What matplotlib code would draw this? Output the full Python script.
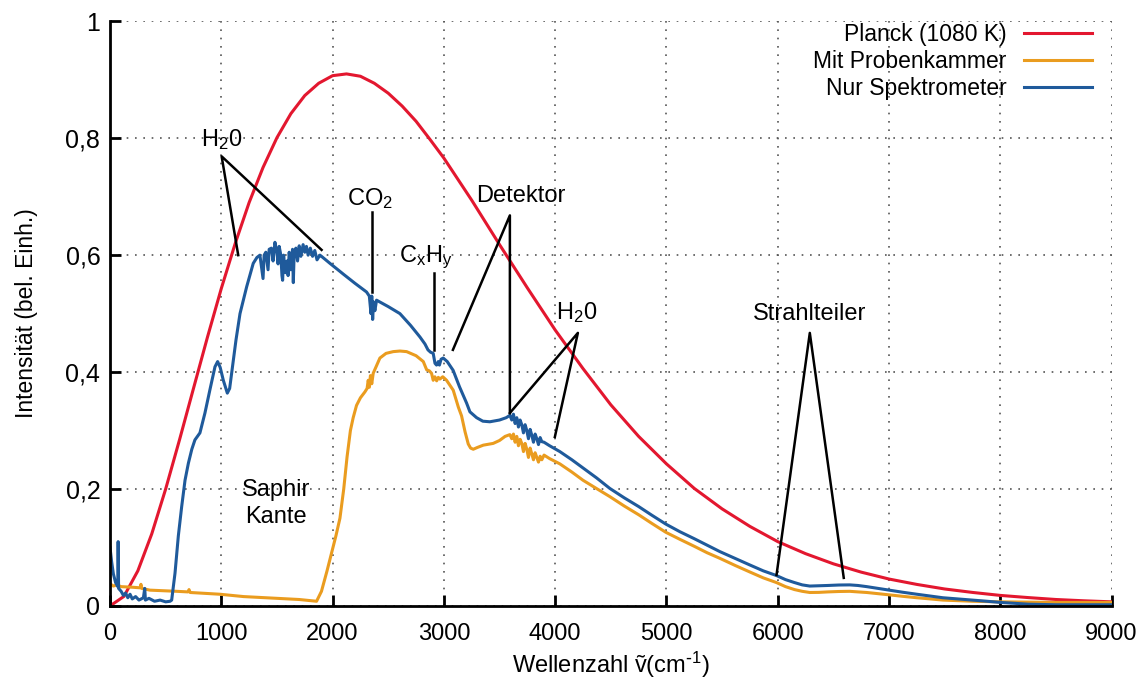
import matplotlib
matplotlib.use("Agg")
import matplotlib.pyplot as plt
from matplotlib.ticker import FuncFormatter

plt.rcParams['font.family'] = ['Liberation Sans', 'DejaVu Sans']
plt.rcParams['mathtext.default'] = 'regular'

# Planck-Kurve (1080 K), normiert
planck_x = [0, 125, 250, 375, 500, 625, 750, 875, 1000, 1125, 1250, 1375,
            1500, 1625, 1750, 1875, 2000, 2125, 2250, 2375, 2500, 2625, 2750,
            2875, 3000, 3125, 3250, 3375, 3500, 3625, 3750, 3875, 4000, 4250,
            4500, 4750, 5000, 5250, 5500, 5750, 6000, 6250, 6500, 6750, 7000,
            7250, 7500, 7750, 8000, 8250, 8500, 8750, 9000]
planck_y = [0.0, 0.0163, 0.060, 0.1232, 0.200, 0.2845, 0.372, 0.4593, 0.543,
            0.620, 0.690, 0.750, 0.801, 0.842, 0.873, 0.894, 0.907, 0.910,
            0.906, 0.894, 0.877, 0.855, 0.829, 0.798, 0.766, 0.730, 0.694,
            0.656, 0.618, 0.581, 0.544, 0.508, 0.472, 0.406, 0.344, 0.290,
            0.243, 0.201, 0.166, 0.136, 0.110, 0.0894, 0.072, 0.0578, 0.046,
            0.0368, 0.029, 0.0231, 0.018, 0.0143, 0.011, 0.0088, 0.007]

# Messung mit Probenkammer
probe_x = [0, 30, 60, 100, 200, 270, 278, 285, 359, 600, 700, 710, 720, 988,
           1200, 1500, 1700, 1856, 1900, 1950, 1990, 2030, 2066, 2100, 2130,
           2160, 2185, 2215, 2250, 2290, 2310, 2320, 2330, 2340, 2352, 2365,
           2425, 2480, 2545, 2605, 2665, 2750, 2815, 2845, 2870, 2889, 2904,
           2919, 2935, 2950, 2964, 2990, 3024, 3084, 3130, 3159, 3190, 3219,
           3240, 3264, 3300, 3354, 3443, 3500, 3550, 3593, 3610, 3625, 3640,
           3655, 3670, 3685, 3700, 3715, 3730, 3745, 3760, 3775, 3790, 3805,
           3820, 3835, 3850, 3865, 3880, 3900, 3950, 4042, 4150, 4250, 4370,
           4491, 4620, 4750, 4870, 4994, 5120, 5250, 5365, 5479, 5620, 5750,
           5870, 5988, 6070, 6150, 6220, 6288, 6370, 6450, 6550, 6647, 6720,
           6800, 6900, 7000, 7120, 7250, 7370, 7484, 7620, 7750, 8000, 8500,
           9000]
probe_y = [0.038, 0.034, 0.036, 0.033, 0.032, 0.031, 0.037, 0.030, 0.027,
           0.025, 0.024, 0.028, 0.023, 0.020, 0.016, 0.013, 0.011, 0.008,
           0.025, 0.060, 0.090, 0.120, 0.150, 0.200, 0.255, 0.300, 0.322,
           0.343, 0.356, 0.366, 0.372, 0.386, 0.374, 0.394, 0.380, 0.398,
           0.424, 0.432, 0.435, 0.436, 0.435, 0.428, 0.418, 0.404, 0.402,
           0.398, 0.386, 0.392, 0.385, 0.391, 0.388, 0.392, 0.386, 0.369,
           0.340, 0.325, 0.298, 0.277, 0.270, 0.268, 0.271, 0.275, 0.278,
           0.283, 0.290, 0.293, 0.286, 0.294, 0.280, 0.290, 0.274, 0.285,
           0.278, 0.264, 0.278, 0.268, 0.254, 0.270, 0.260, 0.250, 0.262,
           0.254, 0.246, 0.256, 0.250, 0.258, 0.252, 0.243, 0.229, 0.215,
           0.201, 0.187, 0.171, 0.156, 0.141, 0.126, 0.114, 0.102, 0.091,
           0.0815, 0.069, 0.058, 0.048, 0.040, 0.033, 0.028, 0.025, 0.023,
           0.0232, 0.024, 0.0247, 0.025, 0.024, 0.023, 0.021, 0.019, 0.0165,
           0.014, 0.012, 0.010, 0.009, 0.008, 0.007, 0.006, 0.006]

# Messung nur Spektrometer
spek_x = [0, 15, 30, 50, 70, 73, 77, 100, 120, 140, 160, 180, 200, 230, 260,
          300, 312, 318, 350, 400, 450, 500, 540, 554, 584, 614, 644, 674, 704,
          735, 763, 808, 853, 898, 943, 967, 990, 1018, 1054, 1075, 1093, 1132,
          1168, 1228, 1287, 1320, 1347, 1375, 1385, 1400, 1420, 1430, 1450,
          1465, 1482, 1500, 1510, 1520, 1535, 1545, 1551, 1560, 1575, 1590,
          1600, 1610, 1625, 1640, 1647, 1655, 1670, 1685, 1700, 1715, 1735,
          1750, 1765, 1780, 1800, 1820, 1840, 1860, 1886, 1900, 1976, 2100,
          2200, 2305, 2330, 2345, 2352, 2360, 2368, 2380, 2395, 2500, 2605,
          2700, 2785, 2830, 2857, 2880, 2904, 2920, 2934, 2950, 2960, 2975,
          2994, 3030, 3083, 3140, 3204, 3234, 3294, 3350, 3413, 3500, 3560,
          3593, 3610, 3625, 3640, 3655, 3670, 3685, 3700, 3715, 3730, 3745,
          3760, 3775, 3790, 3805, 3820, 3835, 3850, 3865, 3880, 3900, 3950,
          4042, 4150, 4250, 4372, 4491, 4620, 4750, 4870, 4994, 5120, 5250,
          5365, 5479, 5620, 5750, 5870, 5988, 6070, 6150, 6220, 6288, 6370,
          6450, 6550, 6647, 6720, 6800, 6900, 7000, 7120, 7250, 7370, 7484,
          7620, 7750, 7880, 8000, 8120, 8250, 8500, 9000]
spek_y = [0.100, 0.075, 0.055, 0.040, 0.033, 0.110, 0.030, 0.025, 0.018,
          0.022, 0.014, 0.020, 0.012, 0.016, 0.010, 0.014, 0.030, 0.010, 0.013,
          0.008, 0.010, 0.007, 0.008, 0.010, 0.056, 0.120, 0.170, 0.215, 0.244,
          0.268, 0.284, 0.296, 0.330, 0.370, 0.409, 0.418, 0.408, 0.386, 0.364,
          0.372, 0.398, 0.455, 0.500, 0.546, 0.586, 0.596, 0.600, 0.560, 0.600,
          0.605, 0.575, 0.610, 0.612, 0.590, 0.622, 0.605, 0.585, 0.615, 0.600,
          0.565, 0.557, 0.600, 0.570, 0.590, 0.565, 0.605, 0.575, 0.610, 0.553,
          0.605, 0.612, 0.590, 0.616, 0.598, 0.618, 0.605, 0.615, 0.600, 0.612,
          0.598, 0.608, 0.592, 0.600, 0.598, 0.586, 0.567, 0.552, 0.537, 0.530,
          0.500, 0.530, 0.490, 0.520, 0.505, 0.523, 0.512, 0.500, 0.480, 0.460,
          0.448, 0.438, 0.434, 0.432, 0.415, 0.412, 0.418, 0.412, 0.422, 0.424,
          0.418, 0.403, 0.375, 0.347, 0.332, 0.322, 0.316, 0.315, 0.318, 0.322,
          0.326, 0.318, 0.328, 0.312, 0.322, 0.306, 0.318, 0.310, 0.296, 0.310,
          0.300, 0.286, 0.302, 0.292, 0.280, 0.294, 0.286, 0.276, 0.288, 0.281,
          0.280, 0.274, 0.264, 0.250, 0.236, 0.219, 0.201, 0.185, 0.170, 0.155,
          0.140, 0.127, 0.115, 0.104, 0.093, 0.081, 0.070, 0.060, 0.052, 0.045,
          0.040, 0.036, 0.034, 0.0345, 0.035, 0.0358, 0.036, 0.035, 0.033,
          0.030, 0.027, 0.0235, 0.020, 0.017, 0.014, 0.012, 0.010, 0.008,
          0.006, 0.0045, 0.003, 0.002, 0.002]

fig = plt.figure(figsize=(11.46, 6.87), dpi=100)
ax = fig.add_axes([0.096, 0.118, 0.874, 0.851])

ax.plot(planck_x, planck_y, color='#e3172f', lw=2.2, label='Planck (1080 K)')
ax.plot(probe_x, probe_y, color='#ea9c1f', lw=2.2, label='Mit Probenkammer')
ax.plot(spek_x, spek_y, color='#1f5a9b', lw=2.2, label='Nur Spektrometer')

ax.set_xlim(0, 9000)
ax.set_ylim(0, 1)
ax.set_xticks(range(0, 9001, 1000))
ax.set_yticks([0, 0.2, 0.4, 0.6, 0.8, 1.0])
ax.yaxis.set_major_formatter(FuncFormatter(lambda v, p: ('%g' % round(v, 1)).replace('.', ',')))

for s in ['top', 'right']:
    ax.spines[s].set_visible(False)
for s in ['left', 'bottom']:
    ax.spines[s].set_linewidth(2.0)
ax.tick_params(direction='in', length=8, width=2)
ax.tick_params(axis='y', pad=7, labelsize=18)
ax.tick_params(axis='x', pad=12, labelsize=17)

ax.grid(True, linestyle=(0, (1, 4)), color='#555555', lw=1.2)
ax.set_axisbelow(True)

ax.set_xlabel('Wellenzahl ṽ(cm$^{\\text{-}1}$)', fontsize=17, labelpad=4)
ax.set_ylabel('Intensität (bel. Einh.)', fontsize=16.5, labelpad=20)

leg = ax.legend(loc='upper right', frameon=False, fontsize=16.5, markerfirst=False,
                handlelength=3.0, handletextpad=0.75, labelspacing=0.18,
                borderaxespad=0.0, bbox_to_anchor=(0.99, 1.013))

# Beschriftungen der Absorptionsbanden
tk = dict(fontsize=17, ha='center', va='center')
lk = dict(color='black', lw=1.8)

ax.text(1006, 0.797, 'H$_2$0', **tk)
ax.plot([1152, 1003, 1901], [0.600, 0.769, 0.609], **lk)

ax.text(2335, 0.697, 'CO$_2$', **tk)
ax.plot([2351, 2351], [0.674, 0.537], **lk)

ax.text(2838, 0.597, 'C$_x$H$_y$', **tk)
ax.plot([2913, 2913], [0.569, 0.438], **lk)

ax.text(3690, 0.702, 'Detektor', **tk)
ax.plot([3081, 3593, 3593], [0.438, 0.668, 0.330], **lk)

ax.text(4195, 0.501, 'H$_2$0', **tk)
ax.plot([3593, 4204, 3997], [0.330, 0.467, 0.289], **lk)

ax.text(6288, 0.499, 'Strahlteiler', **tk)
ax.plot([5989, 6288, 6593], [0.053, 0.467, 0.048], **lk)

ax.text(1490, 0.198, 'Saphir', **tk)
ax.text(1490, 0.152, 'Kante', **tk)

fig.savefig('out.png', dpi=100)
